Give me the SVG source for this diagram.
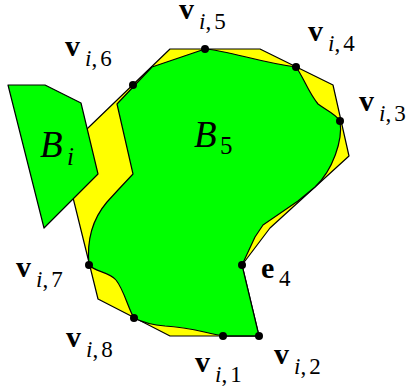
<svg xmlns="http://www.w3.org/2000/svg" width="411" height="387" viewBox="0 0 411 387">
<style>
.yel{fill:#ffff00;stroke:#000;stroke-width:1.2;stroke-linejoin:round}
.grn{fill:#00ff00;stroke:#000;stroke-width:1.2;stroke-linejoin:round}
.ln{fill:none;stroke:#000;stroke-width:1.2}
.dot{fill:#000}
.v{font-family:"Liberation Serif",serif;font-weight:bold;font-size:30px;fill:#000}
.s{font-family:"Liberation Serif",serif;font-size:23px;fill:#000}
.it{font-style:italic}
.B{font-family:"Liberation Serif",serif;font-style:italic;font-size:37px;fill:#000}
.bs{font-family:"Liberation Serif",serif;font-size:25px;fill:#000}
</style>
<g id="region">
<path class="yel" d="M170,49 L260,49 L333,85 L349,156 L270,228 L242,265 L259,336 L170,336 L98,299 L62,153 Z"/>
</g>
<g id="B5">
<path class="grn" d="M205,49 C230,51 258,62 296,67 C304,78 308,92 318,104 C326,110 336,114 340,121 C343,140 333,170 315,187 L298,201 L263,225 L255,237 L242,265 L259,336 L223,336 C205,333 190,327 165,326 C152,325 142,322 134,318 C128,308 124,290 116,280 C110,272 95,272 89,265 C87,245 90,222 107,202 L118,190 L133,174 L117,104 L152,67 Z"/>
<text class="B" x="194" y="147">B</text><text class="bs" x="220" y="154">5</text>
</g>
<g id="Bi">
<path class="grn" d="M8,85 L45,85 L81,103 L98,174 L44,228 Z"/>
<text class="B" x="40" y="157">B</text><text class="bs it" x="67" y="165">i</text>
</g>
<g id="connectors">
<line class="ln" x1="223" y1="336" x2="259" y2="336"/>
</g>
<g id="vertices">
<circle class="dot" cx="205" cy="49" r="4"/>
<circle class="dot" cx="133" cy="85" r="4"/>
<circle class="dot" cx="296" cy="67" r="4"/>
<circle class="dot" cx="340" cy="121" r="4"/>
<circle class="dot" cx="242" cy="265" r="4"/>
<circle class="dot" cx="259" cy="336" r="4"/>
<circle class="dot" cx="223" cy="336" r="4"/>
<circle class="dot" cx="134" cy="318" r="4"/>
<circle class="dot" cx="89" cy="265" r="4"/>
</g>
<g id="labels">
<text class="v" x="179" y="19">v</text><text class="s" x="199" y="29"><tspan class="it">i</tspan>,<tspan dx="3">5</tspan></text>
<text class="v" x="65" y="56">v</text><text class="s" x="85" y="66"><tspan class="it">i</tspan>,<tspan dx="3">6</tspan></text>
<text class="v" x="308" y="41">v</text><text class="s" x="328" y="51"><tspan class="it">i</tspan>,<tspan dx="3">4</tspan></text>
<text class="v" x="359" y="111">v</text><text class="s" x="379" y="121"><tspan class="it">i</tspan>,<tspan dx="3">3</tspan></text>
<text class="v" x="261" y="278">e</text><text class="s" x="279" y="286">4</text>
<text class="v" x="16" y="277">v</text><text class="s" x="36" y="287"><tspan class="it">i</tspan>,<tspan dx="3">7</tspan></text>
<text class="v" x="66" y="347">v</text><text class="s" x="86" y="357"><tspan class="it">i</tspan>,<tspan dx="3">8</tspan></text>
<text class="v" x="195" y="372">v</text><text class="s" x="215" y="382"><tspan class="it">i</tspan>,<tspan dx="3">1</tspan></text>
<text class="v" x="274" y="364">v</text><text class="s" x="294" y="374"><tspan class="it">i</tspan>,<tspan dx="3">2</tspan></text>
</g>
</svg>
